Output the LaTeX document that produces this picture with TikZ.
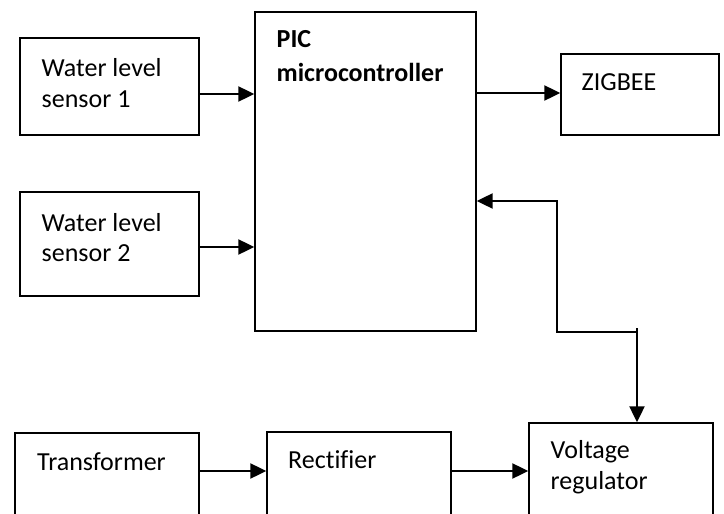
\documentclass[tikz,border=0pt]{standalone}
\usepackage{fontspec}
\setmainfont{Carlito}[Ligatures=NoCommon]
\usetikzlibrary{arrows.meta}
\tikzset{
  blk/.style={draw=black, line width=1.4pt, minimum width=0pt, minimum height=0pt, inner sep=0pt},
  txt/.style={anchor=base west, inner sep=0pt, align=left, font=\fontsize{26}{30.5}\selectfont},
  btxt/.style={txt, font=\fontsize{26}{33.3}\selectfont\bfseries},
  arr/.style={line width=2.2pt, line join=miter, -{Triangle[length=16pt,width=15pt]}},
  wire/.style={line width=2.2pt}
}
\begin{document}
\begin{tikzpicture}[x=1pt,y=-1pt]
\useasboundingbox (0,0) rectangle (724,514);
\clip (0,0) rectangle (724,514);
% boxes
\node[blk, minimum width=179pt, minimum height=97pt] (s1) at (109.5,86.5) {};
\node[blk, minimum width=179pt, minimum height=104pt] (s2) at (109.5,244) {};
\node[blk, minimum width=221pt, minimum height=319pt] (pic) at (365.5,171.5) {};
\node[blk, minimum width=158pt, minimum height=81pt] (zig) at (640,94.5) {};
\node[blk, minimum width=184pt, minimum height=110pt] (tr) at (107,488) {};
\node[blk, minimum width=184pt, minimum height=110pt] (rec) at (359,487) {};
\node[blk, minimum width=184pt, minimum height=130pt] (vr) at (621,488) {};
% texts (anchor = baseline of last line)
\node[txt] (t1) at (41.5,107) {Water level\\sensor 1};
\node[txt] (t2) at (41.5,261.5) {Water level\\sensor 2};
\node[btxt] (tp) at (276.5,81) {PIC\\microcontroller};
\node[txt] (tz) at (581.5,90.5) {ZIGBEE};
\node[txt] (tt) at (37,470) {Transformer};
\node[txt] (tr2) at (288,468.5) {Rectifier};
\node[txt] (tv) at (550.5,489) {Voltage\\regulator};
% helper coordinates
\coordinate (y1) at (0,94);
\coordinate (y2) at (0,247);
\coordinate (y3) at (0,93);
\coordinate (y4) at (0,471);
\coordinate (fb1) at (557,201);
\coordinate (fb2) at (557,332);
\coordinate (fb3) at (637,332);
\coordinate (fb4) at (637,328);
% connectors
\draw[arr] (y1 -| s1.east) -- (y1 -| pic.west);
\draw[arr] (y2 -| s2.east) -- (y2 -| pic.west);
\draw[arr] (y3 -| pic.east) -- (y3 -| zig.west);
\draw[arr] (y4 -| tr.east) -- (y4 -| rec.west);
\draw[arr] (y4 -| rec.east) -- (y4 -| vr.west);
\draw[arr] (fb3) -- (fb2) -- (fb1) -- (fb1 -| pic.east);
\draw[arr] (fb4) -- (fb4 |- vr.north);
\end{tikzpicture}
\end{document}
